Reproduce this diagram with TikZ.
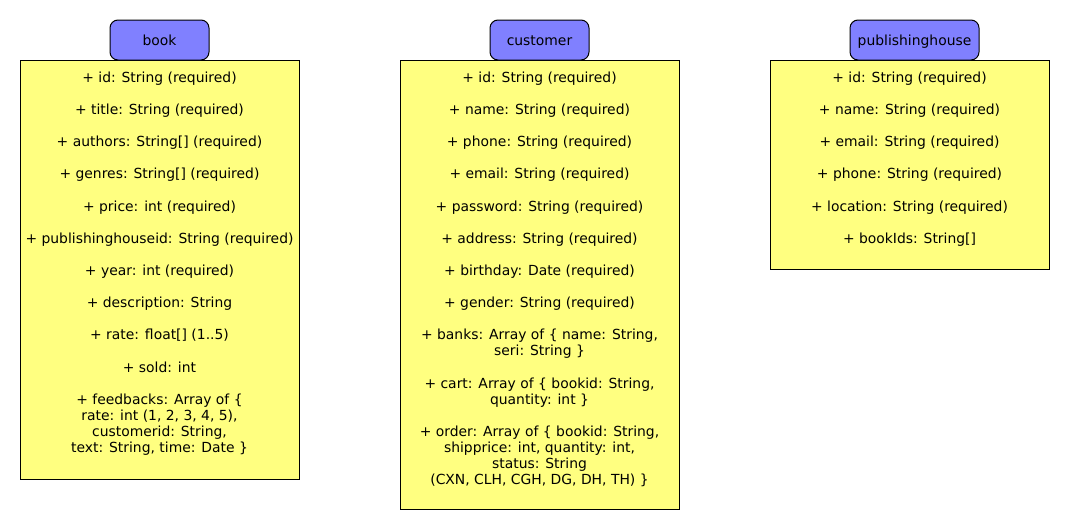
\documentclass[tikz,border=0pt]{standalone}
\usepackage{fontspec}
\setmainfont{DejaVu Sans}
\definecolor{hdrblue}{RGB}{128,128,255}
\definecolor{bodyyellow}{RGB}{255,255,128}
\begin{document}
\begin{tikzpicture}[x=1pt,y=-1pt,
  hdr/.style={draw=black, line width=1pt, fill=hdrblue, rounded corners=8pt, minimum height=40pt, inner sep=0pt, text height=10.6pt, text depth=0pt, font=\fontsize{13.9}{16.1}\selectfont},
  body/.style={draw=black, line width=1pt, fill=bodyyellow, inner sep=0pt},
  attrs/.style={anchor=north, align=center, inner sep=0pt, font=\fontsize{13.9}{16.1}\selectfont}]
\useasboundingbox (0,0) rectangle (1070,530);
% bodies
\node[body, minimum width=279pt, minimum height=419pt] (bookbody) at (159.5,269.5) {};
\node[body, minimum width=279pt, minimum height=449pt] (custbody) at (539.5,284.5) {};
\node[body, minimum width=279pt, minimum height=209pt] (pubbody) at (909.5,164.5) {};
% headers
\node[hdr, minimum width=99pt] (bookhdr) at (159.5,40) {book};
\node[hdr, minimum width=99pt] (custhdr) at (539.5,40) {customer};
\node[hdr, minimum width=129pt] (pubhdr) at (914.5,40) {publishinghouse};
% attributes
\node[attrs] (booktxt) at (159.5,71.5) {%
+ id: String (required)\\[16.1pt]
+ title: String (required)\\[16.1pt]
+ authors: String[] (required)\\[16.1pt]
+ genres: String[] (required)\\[16.1pt]
+ price: int (required)\\[16.1pt]
+ publishinghouseid: String (required)\\[16.1pt]
+ year: int (required)\\[16.1pt]
+ description: String\\[16.1pt]
+ rate: float[] (1..5)\\[16.1pt]
+ sold: int\\[16.1pt]
+ feedbacks: Array of \{\\
rate: int (1, 2, 3, 4, 5),\\
customerid: String,\\
text: String, time: Date \}};
\node[attrs] (custtxt) at (539.5,71.5) {%
+ id: String (required)\\[16.1pt]
+ name: String (required)\\[16.1pt]
+ phone: String (required)\\[16.1pt]
+ email: String (required)\\[16.1pt]
+ password: String (required)\\[16.1pt]
+ address: String (required)\\[16.1pt]
+ birthday: Date (required)\\[16.1pt]
+ gender: String (required)\\[16.1pt]
+ banks: Array of \{ name: String,\\
seri: String \}\\[16.1pt]
+ cart: Array of \{ bookid: String,\\
quantity: int \}\\[16.1pt]
+ order: Array of \{ bookid: String,\\
shipprice: int, quantity: int,\\
status: String\\
(CXN, CLH, CGH, DG, DH, TH) \}};
\node[attrs] (pubtxt) at (909.5,71.5) {%
+ id: String (required)\\[16.1pt]
+ name: String (required)\\[16.1pt]
+ email: String (required)\\[16.1pt]
+ phone: String (required)\\[16.1pt]
+ location: String (required)\\[16.1pt]
+ bookIds: String[]};
\end{tikzpicture}
\end{document}
